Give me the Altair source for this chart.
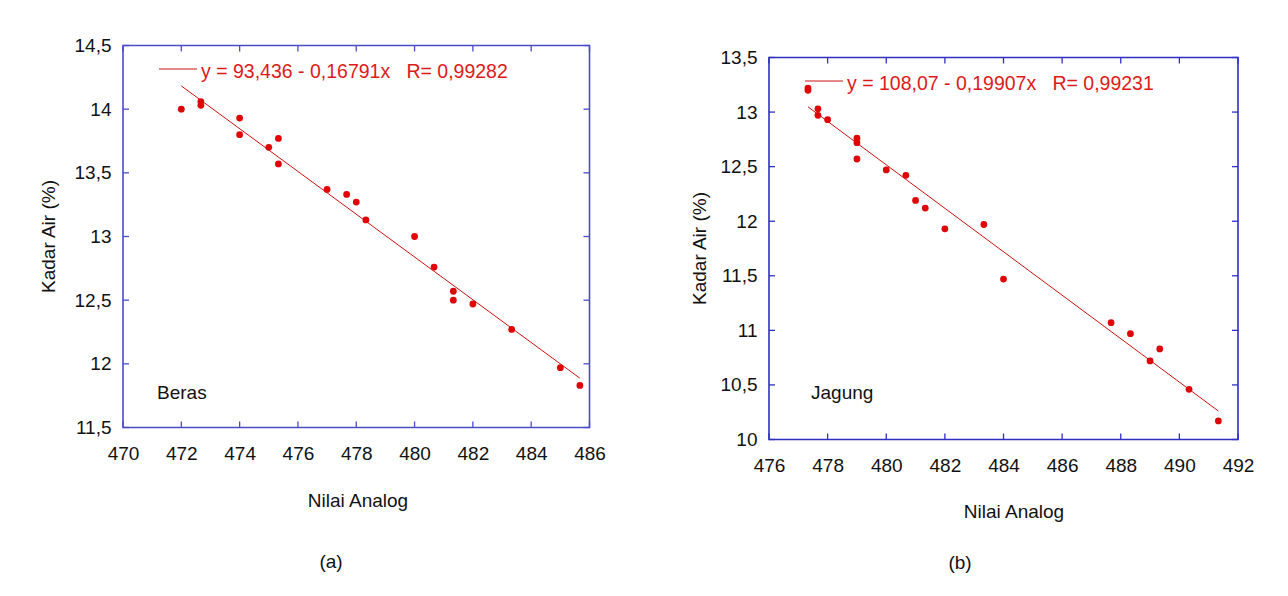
import altair as alt
import pandas as pd

FONT = "Liberation Sans"
RED = "#de0606"
LINE_RED = "#cc1111"

# --- (a) Beras -----------------------------------------------------------
beras_analog = [472.0, 472.67, 472.67, 474.0, 474.0, 475.0, 475.33, 475.33,
                477.0, 477.67, 478.0, 478.33, 480.0, 480.67, 481.33, 481.33,
                482.0, 483.33, 485.0, 485.67]
beras_kadar = [14.00, 14.06, 14.03, 13.93, 13.80, 13.70, 13.77, 13.57,
               13.37, 13.33, 13.27, 13.13, 13.00, 12.76, 12.57, 12.50,
               12.47, 12.27, 11.97, 11.83]
beras_fit = [93.436, -0.16791]          # intercept, slope
beras_r = "0,99282"
beras_xticks = [470, 472, 474, 476, 478, 480, 482, 484, 486]
beras_yticks = [11.5, 12, 12.5, 13, 13.5, 14, 14.5]

# --- (b) Jagung ----------------------------------------------------------
jagung_analog = [477.33, 477.33, 477.67, 477.67, 478.0, 479.0, 479.0, 479.0,
                 480.0, 480.67, 481.0, 481.33, 482.0, 483.33, 484.0, 487.67,
                 488.33, 489.0, 489.33, 490.33, 491.33]
jagung_kadar = [13.22, 13.20, 13.03, 12.97, 12.93, 12.76, 12.72, 12.57,
                12.47, 12.42, 12.19, 12.12, 11.93, 11.97, 11.47, 11.07,
                10.97, 10.72, 10.83, 10.46, 10.17]
jagung_fit = [108.07, -0.19907]
jagung_r = "0,99231"
jagung_xticks = [476, 478, 480, 482, 484, 486, 488, 490, 492]
jagung_yticks = [10, 10.5, 11, 11.5, 12, 12.5, 13, 13.5]

COMMA = "replace(toString(datum.value), '.', ',')"
ONE = alt.Data(values=[{}])


def fmt(v):
    return f"{v}".replace(".", ",")


def panel(xs, ys, fit, r_txt, xticks, yticks, W, H, frame, name, name_xy,
          cap, cap_xy, xtitle_xy, ytitle_x, top_pad):
    xscale = alt.Scale(domain=[xticks[0], xticks[-1]], nice=False, zero=False)
    yscale = alt.Scale(domain=[yticks[0], yticks[-1]], nice=False, zero=False)
    xaxis = alt.Axis(values=xticks, ticks=False, domain=False, grid=False,
                     labelExpr=COMMA, labelFont=FONT, labelFontSize=19,
                     labelColor="#111111", labelPadding=17, labelFlush=False,
                     labelOverlap=False, title=None)
    yaxis = alt.Axis(values=yticks, ticks=False, domain=False, grid=False,
                     labelExpr=COMMA, labelFont=FONT, labelFontSize=19,
                     labelColor="#111111", labelPadding=12,
                     labelOverlap=False, title=None)
    X = lambda f: alt.X(f, type="quantitative", scale=xscale, axis=xaxis)
    Y = lambda f: alt.Y(f, type="quantitative", scale=yscale, axis=yaxis)

    pts = pd.DataFrame({"x": xs, "y": ys})
    points = alt.Chart(pts).mark_circle(size=46, color=RED, opacity=1).encode(
        x=X("x"), y=Y("y"))

    # fitted line y = a + b*x over the measured range
    x0, x1 = min(xs), max(xs)
    fit_df = pd.DataFrame({"x": [x0, x1],
                           "y": [fit[0] + fit[1] * x0, fit[0] + fit[1] * x1]})
    fit_line = alt.Chart(fit_df).mark_line(color=LINE_RED, strokeWidth=1).encode(
        x=X("x"), y=Y("y"))

    # inward ticks on all four sides
    xt = pd.DataFrame({"x": xticks})
    yt = pd.DataFrame({"y": yticks})
    tick_style = dict(color=frame, strokeWidth=1.3)
    t_bottom = alt.Chart(xt).mark_rule(**tick_style).encode(
        x=X("x"), y=alt.value(H), y2=alt.value(H - 6))
    t_top = alt.Chart(xt).mark_rule(**tick_style).encode(
        x=X("x"), y=alt.value(0), y2=alt.value(6))
    t_left = alt.Chart(yt).mark_rule(**tick_style).encode(
        y=Y("y"), x=alt.value(0), x2=alt.value(6))
    t_right = alt.Chart(yt).mark_rule(**tick_style).encode(
        y=Y("y"), x=alt.value(W), x2=alt.value(W - 6))

    # legend entry
    eq = f"y = {fmt(fit[0])} - {fmt(abs(fit[1]))}x\u00a0\u00a0\u00a0R= {r_txt}"
    leg_line = alt.Chart(ONE).mark_rule(color=LINE_RED, strokeWidth=1).encode(
        x=alt.value(36), x2=alt.value(74), y=alt.value(23.5))
    leg_text = alt.Chart(ONE).mark_text(
        text=eq, align="left", baseline="alphabetic", font=FONT, fontSize=19.5,
        color="#dd1a1a").encode(x=alt.value(78), y=alt.value(32))

    sample = alt.Chart(ONE).mark_text(
        text=name, align="left", baseline="alphabetic", font=FONT, fontSize=19,
        color="#111111").encode(x=alt.value(name_xy[0]), y=alt.value(name_xy[1]))

    xtitle = alt.Chart(ONE).mark_text(
        text="Nilai Analog", align="center", baseline="alphabetic", font=FONT,
        fontSize=19, color="#111111").encode(
        x=alt.value(xtitle_xy[0]), y=alt.value(xtitle_xy[1]))
    ytitle = alt.Chart(ONE).mark_text(
        text="Kadar Air (%)", align="center", baseline="middle", angle=270,
        font=FONT, fontSize=19, color="#111111").encode(
        x=alt.value(ytitle_x), y=alt.value(H / 2))
    caption = alt.Chart(ONE).mark_text(
        text=cap, align="center", baseline="alphabetic", font=FONT,
        fontSize=19, color="#111111").encode(
        x=alt.value(cap_xy[0]), y=alt.value(cap_xy[1]))

    # transparent guide that fixes the panel's outer extent
    extent = alt.Chart(ONE).mark_rule(opacity=0).encode(
        x=alt.value(-100), x2=alt.value(W + 40), y=alt.value(-top_pad))

    return alt.layer(
        extent, t_bottom, t_top, t_left, t_right, fit_line, points,
        leg_line, leg_text, sample, xtitle, ytitle, caption,
    ).properties(
        width=W, height=H,
        view=alt.ViewBackground(stroke=frame, strokeWidth=1.6, fill="white"),
    )


left = panel(beras_analog, beras_kadar, beras_fit, beras_r,
             beras_xticks, beras_yticks, 466.5, 382, "#4b4bc8",
             "Beras", (34, 353), "(a)", (208, 522), (235, 461.5), -74, 20)
right = panel(jagung_analog, jagung_kadar, jagung_fit, jagung_r,
              jagung_xticks, jagung_yticks, 469, 382, "#2f2fc4",
              "Jagung", (42, 341), "(b)", (191, 511), (245, 460), -69, 10)

# empty strip that drops panel (b) a little lower than panel (a)
offset_strip = alt.Chart(ONE).mark_rule(opacity=0).encode(
    x=alt.value(0), y=alt.value(0)
).properties(width=469, height=1, view=alt.ViewBackground(stroke=None))

right_col = alt.vconcat(offset_strip, right, spacing=0)

chart = alt.hconcat(left, right_col, spacing=37).properties(
    padding={"left": 22, "top": 24.5, "right": 0, "bottom": 0},
    background="white",
)

chart.save("out.html", embed_options={"renderer": "svg", "actions": False})
